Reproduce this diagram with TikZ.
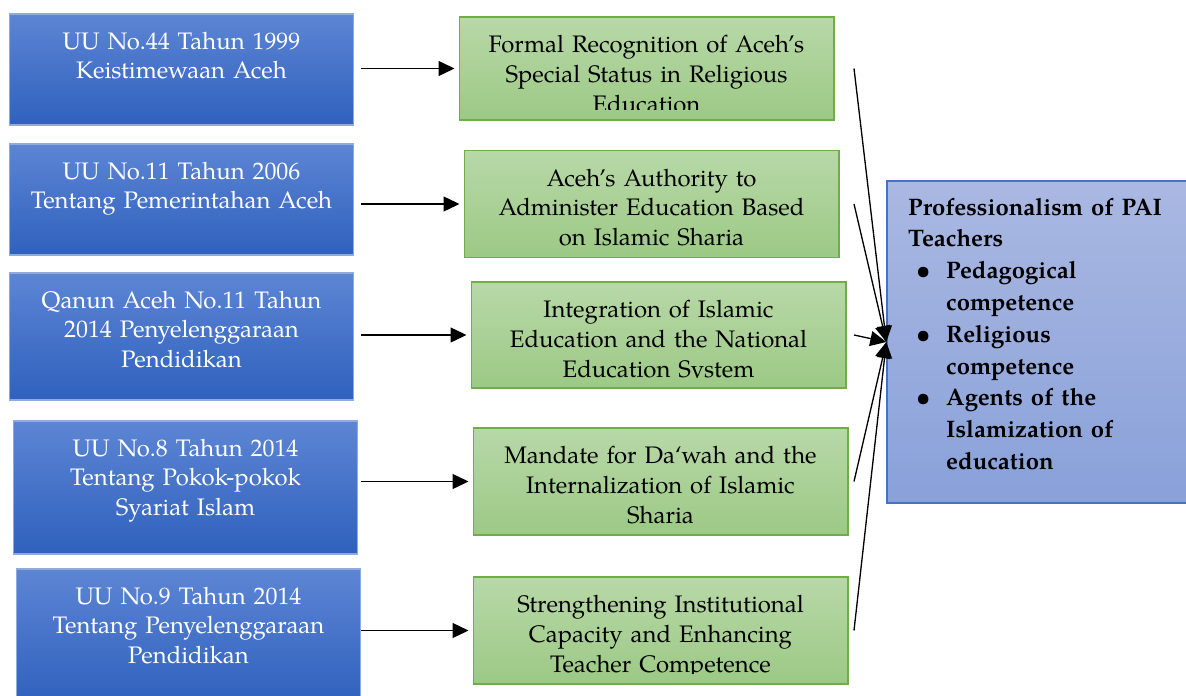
\documentclass[tikz,border=0pt]{standalone}
\usepackage{fontspec}
\setmainfont{texgyrepagella}[Extension=.otf, UprightFont=*-regular, BoldFont=*-bold, ItalicFont=*-italic, BoldItalicFont=*-bolditalic]
\usetikzlibrary{arrows.meta}

\definecolor{lawtop}{RGB}{93,133,212}
\definecolor{lawbot}{RGB}{47,97,189}
\definecolor{lawedge}{RGB}{143,170,220}
\definecolor{aimtop}{RGB}{184,216,168}
\definecolor{aimbot}{RGB}{156,201,133}
\definecolor{aimedge}{RGB}{112,173,71}
\definecolor{paitop}{RGB}{170,184,226}
\definecolor{paibot}{RGB}{137,161,217}
\definecolor{paiedge}{RGB}{68,114,196}

\newcommand\boxfont{\fontsize{13.6}{17}\selectfont}
\newcommand\paifont{\fontsize{13.6}{18.1}\selectfont\bfseries}
\newcommand\paibullet{\makebox[0.76cm][l]{\hspace*{0.16cm}\textbullet}}
\newcommand\paiindent{\hspace*{0.76cm}}

\tikzset{
  lawbox/.style={draw=lawedge, line width=0.6pt, top color=lawtop, bottom color=lawbot,
    minimum width=6.9cm, inner sep=0pt,
    path picture={\node[anchor=base, text width=6.6cm, align=center, text=white, font=\boxfont]
      at ([yshift=-0.7cm]path picture bounding box.north) {#1};}},
  aimbox/.style={draw=aimedge, line width=0.6pt, top color=aimtop, bottom color=aimbot,
    minimum width=7.5cm, minimum height=2.14cm, inner sep=0pt,
    path picture={\clip ([yshift=0.2cm]path picture bounding box.south west) rectangle (path picture bounding box.north east);
      \node[anchor=base, text width=7.2cm, align=center, text=black, font=\boxfont]
      at ([yshift=-0.71cm]path picture bounding box.north) {#1};}},
  paibox/.style={draw=paiedge, line width=0.8pt, top color=paitop, bottom color=paibot,
    minimum width=6.1cm, minimum height=6.44cm, inner sep=0pt,
    path picture={\node[anchor=base west, inner sep=0pt, text width=5.6cm, align=left, text=black, font=\paifont]
      at ([xshift=0.16cm, yshift=-0.68cm]path picture bounding box.north west) {#1};}},
  feed/.style={line width=0.75pt, -{Triangle[length=0.32cm, width=0.3cm]}},
}

\begin{document}
\begin{tikzpicture}[x=0.02cm, y=-0.02cm]
  \useasboundingbox (0,0) rectangle (1186,696);

  % legal basis
  \node[lawbox={UU No.44 Tahun 1999\\Keistimewaan Aceh}, minimum height=2.22cm] (law1) at (181.5,69.5) {};
  \node[lawbox={UU No.11 Tahun 2006\\Tentang Pemerintahan Aceh}, minimum height=2.22cm] (law2) at (181.5,199.5) {};
  \node[lawbox={Qanun Aceh No.11 Tahun\\2014 Penyelenggaraan\\Pendidikan}, minimum height=2.54cm] (law3) at (181.5,336.5) {};
  \node[lawbox={UU No.8 Tahun 2014\\Tentang Pokok-pokok\\Syariat Islam}, minimum height=2.66cm] (law4) at (185.5,487.5) {};
  \node[lawbox={UU No.9 Tahun 2014\\Tentang Penyelenggaraan\\Pendidikan}, minimum height=2.7cm] (law5) at (188.5,636.5) {};

  % what each one brings
  \node[aimbox={Formal Recognition of Aceh’s\\Special Status in Religious\\Education}, minimum height=2.06cm] (aim1) at (646.5,68.5) {};
  \node[aimbox={Aceh’s Authority to\\Administer Education Based\\on Islamic Sharia}] (aim2) at (651.5,204) {};
  \node[aimbox={Integration of Islamic\\Education and the National\\Education System}, minimum height=2.12cm] (aim3) at (658.5,335) {};
  \node[aimbox={Mandate for Da‘wah and the\\Internalization of Islamic\\Sharia}] (aim4) at (660.5,481.5) {};
  \node[aimbox={Strengthening Institutional\\Capacity and Enhancing\\Teacher Competence}] (aim5) at (660.5,630.5) {};

  \node[paibox={Professionalism of PAI\\Teachers\\
    \paibullet Pedagogical\\\paiindent competence\\
    \paibullet Religious\\\paiindent competence\\
    \paibullet Agents of the\\\paiindent Islamization of\\\paiindent education}] (pai) at (1039.5,342) {};

  \coordinate (lead) at (361,0);
  \coordinate (tail) at (854,0);

  \draw[feed, shorten >=0.08cm] (aim1.west -| lead) -- (aim1.west);
  \draw[feed, shorten >=0.08cm] (aim2.west -| lead) -- (aim2.west);
  \draw[feed, shorten >=0.08cm] (aim3.west -| lead) -- (aim3.west);
  \draw[feed, shorten >=0.08cm] (aim4.west -| lead) -- (aim4.west);
  \draw[feed, shorten >=0.08cm] (aim5.west -| lead) -- (aim5.west);

  \draw[feed] (aim1.east -| tail) -- (pai.west);
  \draw[feed] (aim2.east -| tail) -- (pai.west);
  \draw[feed] (aim3.east -| tail) -- (pai.west);
  \draw[feed] (aim4.east -| tail) -- (pai.west);
  \draw[feed] (aim5.east -| tail) -- (pai.west);
\end{tikzpicture}
\end{document}
